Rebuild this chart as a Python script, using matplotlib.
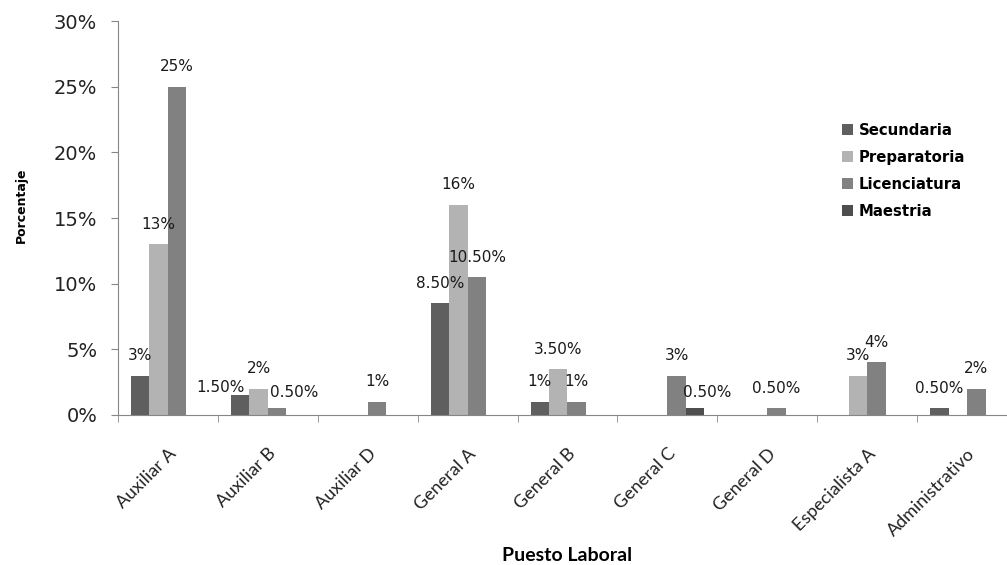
import numpy as np
import matplotlib
matplotlib.use('Agg')
import matplotlib.pyplot as plt
from matplotlib.ticker import FuncFormatter

# data (percent)
puestos = ['Auxiliar A', 'Auxiliar B', 'Auxiliar D', 'General A', 'General B',
           'General C', 'General D', 'Especialista A', 'Administrativo']
niveles = ['Secundaria', 'Preparatoria', 'Licenciatura', 'Maestria']
secundaria = [3, 1.5, 0, 8.5, 1, 0, 0, 0, 0.5]
preparatoria = [13, 2, 0, 16, 3.5, 0, 0, 3, 0]
licenciatura = [25, 0.5, 1, 10.5, 1, 3, 0.5, 4, 2]
maestria = [0, 0, 0, 0, 0, 0.5, 0, 0, 0]

colores = ['#5f5f5f', '#b3b3b3', '#818181', '#4e4e4e']
series = [secundaria, preparatoria, licenciatura, maestria]

# label nudges (points) like in the original, keyed by (puesto, serie)
nudges = {(1, 0): (-14, -9), (1, 2): (12, -3), (5, 3): (9, -3)}


def fmt_pct(v):
    if v == int(v):
        return '%d%%' % v
    return '%.2f%%' % v


fig = plt.figure(figsize=(10.07, 5.65), dpi=100)
ax = fig.add_axes([0.1172, 0.2655, 0.8927, 0.6973])

x = np.arange(len(puestos))
w = 0.185
for j, (vals, col, name) in enumerate(zip(series, colores, niveles)):
    pos = x + (j - 1.5) * w
    ax.bar(pos, vals, width=w, color=col, label=name, edgecolor='none')
    for i, (p, v) in enumerate(zip(pos, vals)):
        if v > 0:
            dx, dy = nudges.get((i, j), (0, 0))
            ax.annotate(fmt_pct(v), (p, v), xytext=(dx, 14.4 + dy),
                        textcoords='offset points', ha='center', va='center',
                        fontsize=11, color='#1a1a1a')

ax.set_xlim(-0.5, len(puestos) - 0.5)
ax.set_ylim(0, 30)
ax.set_yticks(np.arange(0, 31, 5))
ax.yaxis.set_major_formatter(FuncFormatter(lambda v, _: '%d%%' % v))
ax.tick_params(axis='y', labelsize=14, length=5, color='#868686',
               labelcolor='#222222', pad=10)

ax.set_xticks(x)
ax.set_xticklabels(puestos, rotation=45, ha='right', va='top',
                   rotation_mode='anchor', fontsize=13,
                   family=['Lato', 'DejaVu Sans'])
ax.set_xticks(np.arange(-0.5, len(puestos), 1), minor=True)
ax.tick_params(axis='x', which='major', length=0, pad=22, labelcolor='#222222')
ax.tick_params(axis='x', which='minor', length=5, color='#868686')

for s in ['top', 'right']:
    ax.spines[s].set_visible(False)
for s in ['left', 'bottom']:
    ax.spines[s].set_color('#868686')

ax.set_ylabel('Porcentaje', fontsize=9, fontweight='bold')
ax.yaxis.set_label_coords(-0.1, 0.533)
fig.text(0.5636, 0.016, 'Puesto Laboral', ha='center', va='center',
         fontsize=14, fontweight='bold', family=['Lato', 'DejaVu Sans'])

ax.legend(loc='upper left', bbox_to_anchor=(0.79, 0.775), frameon=False,
          prop={'size': 10.7, 'weight': 'bold'}, handlelength=0.75,
          handleheight=0.75, handletextpad=0.4, labelspacing=0.8)

fig.savefig('out.png', dpi=100)
